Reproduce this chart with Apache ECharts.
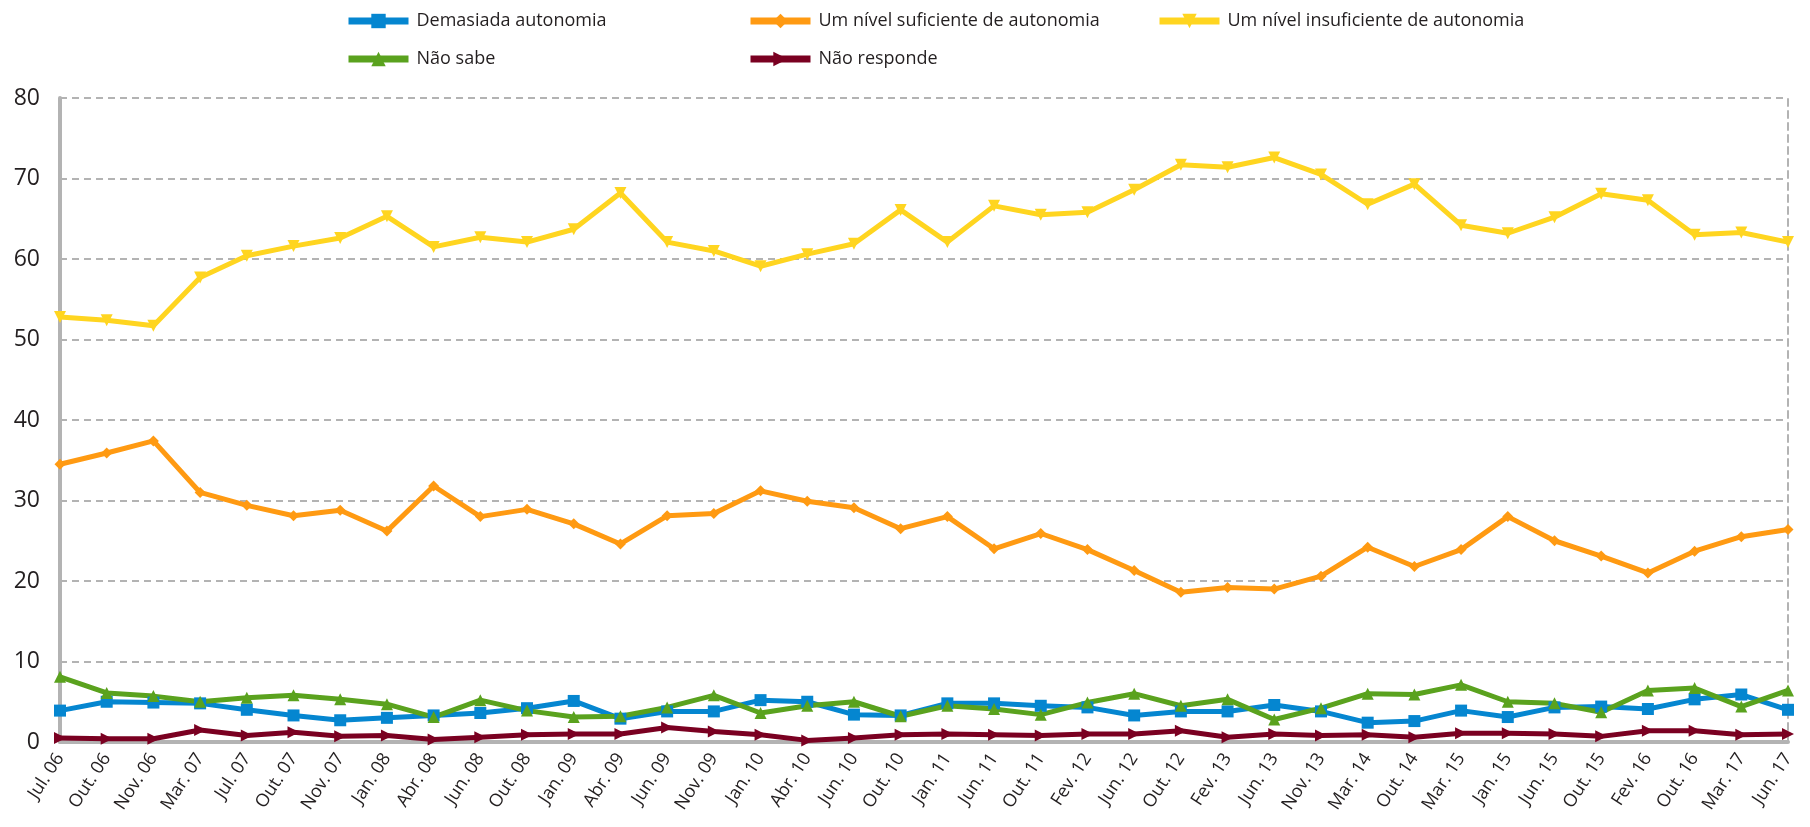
<!DOCTYPE html>
<html>
<head>
<meta charset="utf-8">
<script src="https://cdn.jsdelivr.net/npm/echarts@6.0.0/dist/echarts.min.js"></script>
<style>
  html, body { margin: 0; padding: 0; background: #ffffff; }
  #chart { width: 1810px; height: 827px; }
</style>
</head>
<body>
<div id="chart"></div>
<script>
// Survey waves (x axis)
const categories = [
  'Jul. 06', 'Out. 06', 'Nov. 06', 'Mar. 07', 'Jul. 07', 'Out. 07', 'Nov. 07', 'Jan. 08',
  'Abr. 08', 'Jun. 08', 'Out. 08', 'Jan. 09', 'Abr. 09', 'Jun. 09', 'Nov. 09', 'Jan. 10',
  'Abr. 10', 'Jun. 10', 'Out. 10', 'Jan. 11', 'Jun. 11', 'Out. 11', 'Fev. 12', 'Jun. 12',
  'Out. 12', 'Fev. 13', 'Jun. 13', 'Nov. 13', 'Mar. 14', 'Out. 14', 'Mar. 15', 'Jan. 15',
  'Jun. 15', 'Out. 15', 'Fev. 16', 'Out. 16', 'Mar. 17', 'Jun. 17'
];

// Percentages per answer
const demasiada = [
  3.9, 5.0, 4.9, 4.8, 4.0, 3.3, 2.7, 3.0, 3.3, 3.6, 4.2, 5.1, 2.9,
  3.8, 3.8, 5.2, 5.0, 3.4, 3.3, 4.8, 4.8, 4.5, 4.3, 3.3, 3.8,
  3.8, 4.6, 3.8, 2.4, 2.6, 3.9, 3.1, 4.3, 4.4, 4.1, 5.3, 5.9, 4.0
];
const suficiente = [
  34.5, 35.9, 37.4, 31.0, 29.4, 28.1, 28.8, 26.2, 31.8, 28.0, 28.9, 27.1, 24.6,
  28.1, 28.4, 31.2, 29.9, 29.1, 26.5, 28.0, 24.0, 25.9, 23.9, 21.3, 18.6,
  19.2, 19.0, 20.6, 24.2, 21.8, 23.9, 28.0, 25.0, 23.1, 21.0, 23.7, 25.5, 26.4
];
const insuficiente = [
  52.8, 52.4, 51.7, 57.7, 60.4, 61.6, 62.6, 65.3, 61.5, 62.7, 62.1, 63.7, 68.2,
  62.1, 61.0, 59.1, 60.6, 61.9, 66.1, 62.1, 66.6, 65.5, 65.8, 68.6, 71.7,
  71.4, 72.6, 70.5, 66.8, 69.3, 64.2, 63.2, 65.2, 68.1, 67.3, 63.0, 63.3, 62.1
];
const naoSabe = [
  8.1, 6.1, 5.7, 5.0, 5.5, 5.8, 5.3, 4.7, 3.1, 5.2, 3.9, 3.1, 3.2,
  4.3, 5.8, 3.6, 4.5, 5.0, 3.2, 4.5, 4.1, 3.4, 4.9, 6.0, 4.5,
  5.3, 2.8, 4.2, 6.0, 5.9, 7.1, 5.0, 4.8, 3.7, 6.4, 6.7, 4.4, 6.4
];
const naoResponde = [
  0.5, 0.4, 0.4, 1.5, 0.8, 1.2, 0.7, 0.8, 0.3, 0.6, 0.9, 1.0, 1.0,
  1.8, 1.3, 0.9, 0.2, 0.5, 0.9, 1.0, 0.9, 0.8, 1.0, 1.0, 1.4,
  0.6, 1.0, 0.8, 0.9, 0.6, 1.1, 1.1, 1.0, 0.7, 1.4, 1.4, 0.9, 1.0
];

const yTicks = { min: 0, max: 80, interval: 10 };

const FONT = '"Open Sans", sans-serif';
const TEXT = '#231f20';
const GREY = '#b3b3b3';

function line(name, data, color, symbol, size, rotate) {
  return {
    name: name,
    type: 'line',
    data: data,
    symbol: symbol,
    symbolSize: size,
    symbolRotate: rotate || 0,
    showAllSymbol: true,
    lineStyle: { color: color, width: 5 },
    itemStyle: { color: color },
    z: 3
  };
}

function legendAt(name, left, top) {
  return {
    data: [name],
    left: left,
    top: top,
    itemWidth: 60,
    itemHeight: 18,
    itemGap: 0,
    selectedMode: false,
    lineStyle: { width: 7 },
    textStyle: { fontFamily: FONT, fontSize: 18, color: TEXT, padding: [0, 0, 0, 3] }
  };
}

const chart = echarts.init(document.getElementById('chart'), null, { renderer: 'canvas' });

chart.setOption({
  animation: false,
  backgroundColor: '#ffffff',
  textStyle: { fontFamily: FONT },
  legend: [
    legendAt('Demasiada autonomia', 340, 7),
    legendAt('Um nível suficiente de autonomia', 742, 7),
    legendAt('Um nível insuficiente de autonomia', 1151, 7),
    legendAt('Não sabe', 340, 45),
    legendAt('Não responde', 742, 45)
  ],
  grid: { left: 60, right: 22, top: 98, bottom: 85, containLabel: false },
  xAxis: {
    type: 'category',
    data: categories,
    boundaryGap: false,
    axisLine: { show: true, lineStyle: { color: GREY, width: 4 } },
    axisTick: { show: false },
    splitLine: { show: false },
    axisLabel: {
      interval: 0,
      rotate: 57,
      margin: 13,
      fontFamily: FONT,
      fontSize: 18,
      color: TEXT
    }
  },
  yAxis: [
    {
      type: 'value',
      min: yTicks.min,
      max: yTicks.max,
      interval: yTicks.interval,
      position: 'left',
      axisLine: { show: true, lineStyle: { color: GREY, width: 4 } },
      axisTick: { show: false },
      axisLabel: { margin: 20, fontFamily: FONT, fontSize: 23, color: TEXT },
      splitLine: { show: true, lineStyle: { color: GREY, width: 2, type: [7, 5] } }
    },
    {
      type: 'value',
      min: yTicks.min,
      max: yTicks.max,
      interval: yTicks.interval,
      position: 'right',
      axisLine: { show: true, lineStyle: { color: GREY, width: 2, type: [7, 5] } },
      axisTick: { show: false },
      axisLabel: { show: false },
      splitLine: { show: false }
    }
  ],
  series: [
    line('Demasiada autonomia', demasiada, '#0586d0', 'rect', 12),
    line('Um nível suficiente de autonomia', suficiente, '#ff9a12', 'diamond', 11),
    line('Um nível insuficiente de autonomia', insuficiente, '#ffd520', 'triangle', 12, 180),
    line('Não sabe', naoSabe, '#5aa21e', 'triangle', 12),
    line('Não responde', naoResponde, '#7a0021', 'triangle', 12, -90)
  ]
});
</script>
</body>
</html>
